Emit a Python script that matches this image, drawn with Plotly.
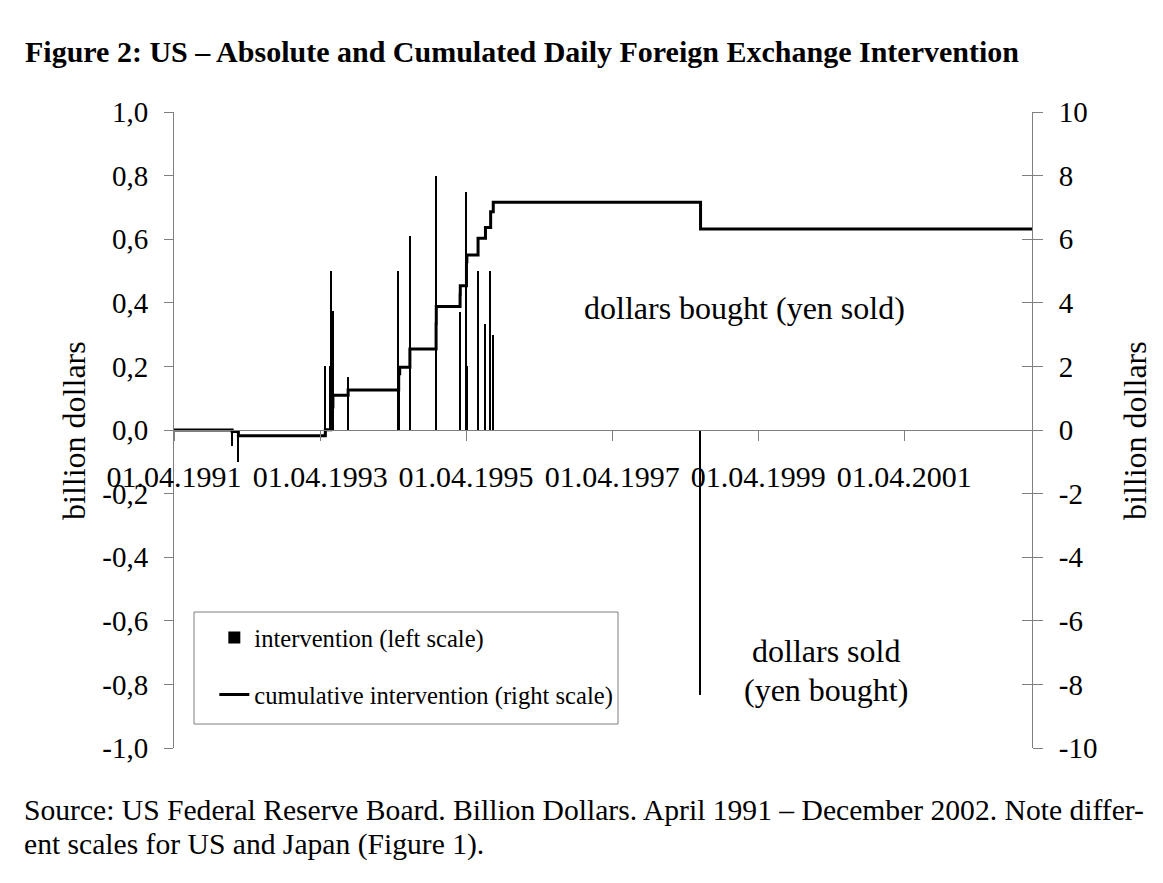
import plotly.graph_objects as go

# daily intervention, billion dollars (+ = dollars bought / yen sold)
int_dates = [
    "1992-01-17", "1992-02-17",
    "1993-04-27", "1993-05-24", "1993-05-27", "1993-06-04", "1993-08-19",
    "1994-04-29", "1994-05-04", "1994-06-24", "1994-11-02", "1994-11-03",
    "1995-03-02", "1995-03-03", "1995-04-03", "1995-04-05", "1995-05-31",
    "1995-07-07", "1995-08-02", "1995-08-15",
    "1998-06-17",
]
int_values = [
    -0.05, -0.10,
    0.20, 0.20, 0.50, 0.375, 0.166,
    0.50, 0.20, 0.61, 0.80, 0.50,
    0.37, 0.29, 0.75, 0.20, 0.50,
    0.333, 0.50, 0.30,
    -0.833,
]

# cumulative intervention, billion dollars (right scale)
cum_dates = [
    "1991-04-01", "1992-01-17", "1992-02-17",
    "1993-04-27", "1993-05-24", "1993-05-27", "1993-06-04", "1993-08-19",
    "1994-04-29", "1994-05-04", "1994-06-24", "1994-11-02", "1994-11-03",
    "1995-03-02", "1995-03-03", "1995-04-03", "1995-04-05", "1995-05-31",
    "1995-07-07", "1995-08-02", "1995-08-15",
    "1998-06-17", "2002-12-31",
]
cum_values = [
    0.0, -0.05, -0.18,
    0.01, 0.22, 0.72, 1.09, 1.26,
    1.77, 1.97, 2.55, 3.35, 3.88,
    4.25, 4.54, 5.29, 5.50, 6.03,
    6.37, 6.86, 7.16,
    6.32, 6.32,
]

x_tick_dates = ["1991-04-01", "1993-04-01", "1995-04-01",
                "1997-04-01", "1999-04-01", "2001-04-01"]
x_tick_labels = ["01.04.1991", "01.04.1993", "01.04.1995",
                 "01.04.1997", "01.04.1999", "01.04.2001"]
left_ticks = [-1.0, -0.8, -0.6, -0.4, -0.2, 0.0, 0.2, 0.4, 0.6, 0.8, 1.0]
left_labels = ["-1,0", "-0,8", "-0,6", "-0,4", "-0,2", "0,0",
               "0,2", "0,4", "0,6", "0,8", "1,0"]
right_ticks = [-10, -8, -6, -4, -2, 0, 2, 4, 6, 8, 10]
right_labels = ["-10", "-8", "-6", "-4", "-2", "0", "2", "4", "6", "8", "10"]

FONT = "Liberation Serif, Times New Roman, serif"
AXIS_GREY = "#7f7f7f"
DAY_MS = 86400000

fig = go.Figure()

fig.add_trace(go.Bar(
    x=int_dates, y=int_values,
    width=[8 * DAY_MS] * len(int_dates),
    marker=dict(color="black", line=dict(width=0)),
    name="intervention (left scale)",
    legendgroup="a",
    yaxis="y",
))

fig.add_trace(go.Scatter(
    x=cum_dates, y=cum_values,
    mode="lines",
    line=dict(color="black", width=3, shape="hv"),
    name="cumulative intervention (right scale)",
    legendgroup="b",
    yaxis="y2",
))

# y3 only carries the inner half of the crossing ticks on the right
fig.add_trace(go.Scatter(x=[None], y=[None], yaxis="y3", showlegend=False,
                         hoverinfo="skip"))

# page body adds 8px, so the figure is 8px smaller than the window
fig.update_layout(
    width=1155,
    height=875,
    margin=dict(l=166, r=131, t=104, b=135),
    paper_bgcolor="white",
    plot_bgcolor="white",
    font=dict(family=FONT, color="black"),
    title=dict(
        text="<b>Figure 2: US – Absolute and Cumulated Daily Foreign Exchange Intervention</b>",
        font=dict(family=FONT, size=30, color="black"),
        xref="container", x=17 / 1155, xanchor="left",
        yref="container", y=1 - 43 / 875, yanchor="middle",
    ),
    bargap=0,
    xaxis=dict(
        type="date",
        range=["1991-04-01", "2002-12-31"],
        anchor="free", position=0.5,
        tickvals=x_tick_dates, ticktext=x_tick_labels,
        ticks="outside", ticklen=10, tickcolor=AXIS_GREY,
        ticklabelstandoff=10,
        ticklabeloverflow="allow",
        tickfont=dict(size=30),
        showline=True, linecolor=AXIS_GREY, linewidth=1,
        showgrid=False, zeroline=False,
    ),
    yaxis=dict(
        range=[-1, 1],
        tickvals=left_ticks, ticktext=left_labels,
        ticks="outside", ticklen=9, tickcolor=AXIS_GREY,
        ticklabelstandoff=10,
        tickfont=dict(size=29),
        showline=True, linecolor=AXIS_GREY, linewidth=1,
        showgrid=False, zeroline=False,
    ),
    yaxis2=dict(
        range=[-10, 10],
        overlaying="y", side="right", anchor="x",
        tickvals=right_ticks, ticktext=right_labels,
        ticks="outside", ticklen=10, tickcolor=AXIS_GREY,
        ticklabelstandoff=10,
        tickfont=dict(size=29),
        showline=True, linecolor=AXIS_GREY, linewidth=1,
        showgrid=False, zeroline=False,
    ),
    yaxis3=dict(
        range=[-10, 10],
        overlaying="y", side="right", anchor="x",
        tickvals=right_ticks, showticklabels=False,
        ticks="inside", ticklen=10, tickcolor=AXIS_GREY,
        showline=False, showgrid=False, zeroline=False,
    ),
    legend=dict(
        x=0.047, y=0.209, xanchor="left", yanchor="top",
        borderwidth=0,
        bgcolor="rgba(0,0,0,0)",
        font=dict(family=FONT, size=24.6, color="black"),
        traceorder="grouped", tracegroupgap=22,
    ),
    showlegend=True,
)

# legend frame (wider padding than plotly's own legend border)
fig.add_shape(
    type="rect", xref="paper", yref="paper",
    x0=0.0233, x1=0.5175, y0=0.0377, y1=0.2138,
    line=dict(color=AXIS_GREY, width=1), fillcolor="white", layer="below",
)

annotations = [
    dict(text="dollars bought (yen sold)", x=0.6655, y=0.692),
    dict(text="dollars sold", x=0.760, y=0.1525),
    dict(text="(yen bought)", x=0.760, y=0.091),
]
for a in annotations:
    fig.add_annotation(
        text=a["text"], xref="paper", yref="paper", x=a["x"], y=a["y"],
        xanchor="center", yanchor="middle", showarrow=False,
        font=dict(family=FONT, size=32, color="black"),
    )

for xpos in [-0.1166, 1.12]:
    fig.add_annotation(
        text="billion dollars", xref="paper", yref="paper", x=xpos, y=0.5,
        xanchor="center", yanchor="middle", textangle=-90, showarrow=False,
        font=dict(family=FONT, size=32, color="black"),
    )

source_lines = [
    ("Source: US Federal Reserve Board. Billion Dollars. April 1991 – December 2002. Note differ-", -0.0975),
    ("ent scales for US and Japan (Figure 1).", -0.151),
]
for text, ypos in source_lines:
    fig.add_annotation(
        text=text, xref="paper", yref="paper", x=-0.1772, y=ypos,
        xanchor="left", yanchor="middle", showarrow=False,
        font=dict(family=FONT, size=29.6, color="black"),
    )

fig.write_html("out.html")
